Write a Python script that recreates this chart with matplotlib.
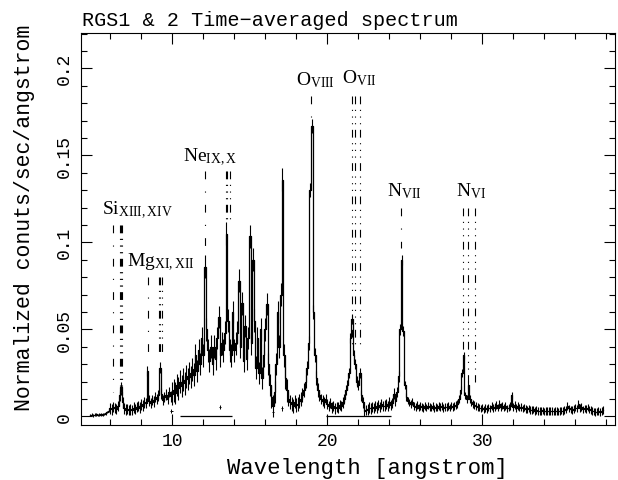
import numpy as np
import matplotlib
matplotlib.use("Agg")
import matplotlib.pyplot as plt
from matplotlib.ticker import MultipleLocator

plt.rcParams['font.family'] = ['Liberation Mono', 'DejaVu Sans Mono']
plt.rcParams['mathtext.fontset'] = 'custom'
plt.rcParams['mathtext.rm'] = 'Liberation Serif'
plt.rcParams['mathtext.it'] = 'Liberation Serif'
plt.rcParams['mathtext.bf'] = 'Liberation Serif'

# binned RGS spectrum, bin centres start at 4.7 A, 0.1 A bins
wl_start = 4.7
wl_step = 0.1
flux = [
    0.0008, 0.0010, 0.0006, 0.0009, 0.0011, 0.0008, 0.0010, 0.0012, 0.0009, 0.0013,
    0.0018, 0.0025, 0.0030, 0.0045, 0.0040, 0.0055, 0.0048, 0.0042, 0.0060, 0.0120,
    0.0170, 0.0080, 0.0045, 0.0038, 0.0042, 0.0035, 0.0040, 0.0036, 0.0050, 0.0042,
    0.0055, 0.0060, 0.0050, 0.0068, 0.0062, 0.0080, 0.0075, 0.0260, 0.0090, 0.0078,
    0.0095, 0.0085, 0.0110, 0.0100, 0.0120, 0.0280, 0.0130, 0.0095, 0.0110, 0.0125,
    0.0100, 0.0140, 0.0115, 0.0130, 0.0150, 0.0135, 0.0180, 0.0160, 0.0200, 0.0175,
    0.0210, 0.0190, 0.0230, 0.0215, 0.0250, 0.0225, 0.0270, 0.0240, 0.0350, 0.0260,
    0.0380, 0.0300, 0.0450, 0.0350, 0.0860, 0.0500, 0.0380, 0.0320, 0.0400, 0.0300,
    0.0400, 0.0330, 0.0450, 0.0570, 0.0350, 0.0420, 0.0380, 0.0480, 0.1050, 0.0550,
    0.0380, 0.0350, 0.0600, 0.0380, 0.0420, 0.0480, 0.0780, 0.0400, 0.0650, 0.0320,
    0.0520, 0.0330, 0.0450, 0.1035, 0.0420, 0.0900, 0.0550, 0.0280, 0.0450, 0.0250,
    0.0500, 0.0220, 0.0350, 0.0500, 0.0645, 0.0300, 0.0180, 0.0110, 0.0060, 0.0140,
    0.0300, 0.0600, 0.0400, 0.0700, 0.1360, 0.0350, 0.0220, 0.0150, 0.0100, 0.0080,
    0.0070, 0.0060, 0.0085, 0.0065, 0.0070, 0.0090, 0.0100, 0.0120, 0.0150, 0.0200,
    0.0280, 0.0420, 0.1300, 0.1670, 0.0600, 0.0350, 0.0220, 0.0150, 0.0120, 0.0100,
    0.0090, 0.0080, 0.0100, 0.0070, 0.0060, 0.0075, 0.0050, 0.0060, 0.0045, 0.0055,
    0.0050, 0.0065, 0.0060, 0.0080, 0.0100, 0.0150, 0.0180, 0.0250, 0.0450, 0.0560,
    0.0350, 0.0300, 0.0200, 0.0180, 0.0250, 0.0120, 0.0080, 0.0030, 0.0035, 0.0040,
    0.0050, 0.0045, 0.0055, 0.0048, 0.0060, 0.0050, 0.0065, 0.0055, 0.0070, 0.0060,
    0.0062, 0.0070, 0.0060, 0.0080, 0.0065, 0.0075, 0.0130, 0.0090, 0.0140, 0.0230,
    0.0500, 0.0900, 0.0490, 0.0180, 0.0110, 0.0090, 0.0080, 0.0070, 0.0085, 0.0060,
    0.0055, 0.0065, 0.0050, 0.0060, 0.0055, 0.0048, 0.0058, 0.0050, 0.0062, 0.0055,
    0.0050, 0.0060, 0.0045, 0.0055, 0.0050, 0.0058, 0.0052, 0.0060, 0.0048, 0.0055,
    0.0052, 0.0058, 0.0050, 0.0062, 0.0055, 0.0060, 0.0065, 0.0070, 0.0100, 0.0150,
    0.0250, 0.0350, 0.0120, 0.0100, 0.0180, 0.0100, 0.0080, 0.0070, 0.0065, 0.0060,
    0.0055, 0.0050, 0.0045, 0.0050, 0.0040, 0.0048, 0.0042, 0.0050, 0.0045, 0.0060,
    0.0048, 0.0055, 0.0065, 0.0050, 0.0070, 0.0055, 0.0062, 0.0050, 0.0058, 0.0045,
    0.0050, 0.0060, 0.0120, 0.0055, 0.0065, 0.0048, 0.0060, 0.0050, 0.0055, 0.0045,
    0.0050, 0.0042, 0.0040, 0.0045, 0.0038, 0.0035, 0.0040, 0.0032, 0.0035, 0.0030,
    0.0032, 0.0030, 0.0034, 0.0028, 0.0032, 0.0030, 0.0029, 0.0032, 0.0030, 0.0028,
    0.0030, 0.0032, 0.0028, 0.0030, 0.0033, 0.0030, 0.0035, 0.0040, 0.0060, 0.0045,
    0.0040, 0.0038, 0.0042, 0.0050, 0.0045, 0.0070, 0.0048, 0.0055, 0.0040, 0.0045,
    0.0042, 0.0050, 0.0040, 0.0035, 0.0030, 0.0028, 0.0025, 0.0027, 0.0030, 0.0025,
    0.0030, 0.0035,
]
wavelength = np.round(wl_start + wl_step * np.arange(len(flux)), 2)

# rough 1-sigma error level per wavelength band
err_edges = [4.7, 6.0, 10.0, 17.5, 19.5, 25.0]
err_level = [0.0008, 0.0030, 0.0065, 0.0040, 0.0030, 0.0022]
flux_err = np.array(err_level)[np.digitize(wavelength, err_edges) - 1]

# chip gaps (drawn at zero) and a few isolated points
gap_start = [10.5, 19.95]
gap_end = [13.85, 24.1]
gap_level = [0.0, 0.0]
stray_wl = [9.95, 13.1, 16.5, 17.1]
stray_flux = [0.003, 0.0055, 0.0025, 0.0045]

# line identifications
ion_labels = [r'Si$_{\rm XIII,XIV}$', r'Mg$_{\rm XI,XII}$', r'Ne$_{\rm IX,X}$',
              r'O$_{\rm VIII}$', r'O$_{\rm VII}$', r'N$_{\rm VII}$', r'N$_{\rm VI}$']
ion_label_x = [5.46, 7.06, 10.71, 17.99, 20.97, 23.87, 28.3]
ion_label_y = [0.1163, 0.0866, 0.1469, 0.191, 0.192, 0.1268, 0.1268]
ion_lines = [[6.18, 6.65, 6.69, 6.74], [8.42, 9.17, 9.23, 9.31],
             [12.13, 13.45, 13.55, 13.70], [18.97], [21.60, 21.80, 22.10],
             [24.78], [28.78, 29.08, 29.53]]
ion_top = [0.110, 0.080, 0.141, 0.184, 0.184, 0.120, 0.120]
ion_bottom = [[0.014, 0.012, 0.012, 0.012], [0.033, 0.035, 0.035, 0.035],
              [0.095, 0.113, 0.113, 0.113], [0.172], [0.040, 0.040, 0.040],
              [0.097], [0.036, 0.020, 0.020]]
h_like = [6.18, 8.42, 12.13, 18.97, 24.78]

fig = plt.figure(figsize=(6.18, 4.81), dpi=100)
ax = fig.add_axes([0.131, 0.1143, 0.864, 0.8157])

ax.step(wavelength, flux, where='mid', color='k', lw=0.9)
ax.errorbar(wavelength, flux, yerr=flux_err, fmt='none', ecolor='k', elinewidth=0.8, capsize=0)
ax.errorbar(stray_wl, stray_flux, xerr=0.07, yerr=0.0012, fmt='none', ecolor='k', elinewidth=0.7, capsize=0)
ax.hlines(gap_level, gap_start, gap_end, color='k', lw=0.9)

for lab, lx, ly, lines, top, bots in zip(ion_labels, ion_label_x, ion_label_y,
                                          ion_lines, ion_top, ion_bottom):
    for w, b in zip(lines, bots):
        if w in h_like:
            dash = (0, (7, 11, 1, 11))
        else:
            dash = (0, (7, 5, 1, 5, 1, 5, 1, 5))
        ax.plot([w, w], [top, b], color='k', lw=0.8, ls=dash)
    ax.text(lx, ly, lab, fontsize=14, ha='left', va='baseline', family='Liberation Serif')

ax.set_xlim(4.11, 38.56)
ax.set_ylim(-0.005, 0.2205)
ax.xaxis.set_major_locator(MultipleLocator(10))
ax.xaxis.set_minor_locator(MultipleLocator(2))
ax.yaxis.set_major_locator(MultipleLocator(0.05))
ax.yaxis.set_minor_locator(MultipleLocator(0.01))
ax.set_yticks([0, 0.05, 0.1, 0.15, 0.2])
ax.set_yticklabels(['0', '0.05', '0.1', '0.15', '0.2'])
ax.tick_params(which='both', direction='in', top=True, right=True, width=0.8)
ax.tick_params(which='major', length=8)
ax.tick_params(which='minor', length=4)
ax.tick_params(axis='x', labelsize=13, pad=5)
ax.tick_params(axis='y', labelsize=13, pad=6, labelrotation=90)
for lbl in ax.get_yticklabels():
    lbl.set_va('center')
for sp in ax.spines.values():
    sp.set_linewidth(0.8)

ax.set_xlabel('Wavelength [angstrom]', fontsize=16)
ax.xaxis.set_label_coords(0.537, -0.082)
ax.set_ylabel('Normalized conuts/sec/angstrom', fontsize=15.5)
ax.yaxis.set_label_coords(-0.086, 0.53)
fig.text(81.7 / 618, 1 - 20 / 481, 'RGS1 & 2 Time\u2212averaged spectrum',
         fontsize=14.5, ha='left', va='center')

fig.savefig('out.png', dpi=100)
